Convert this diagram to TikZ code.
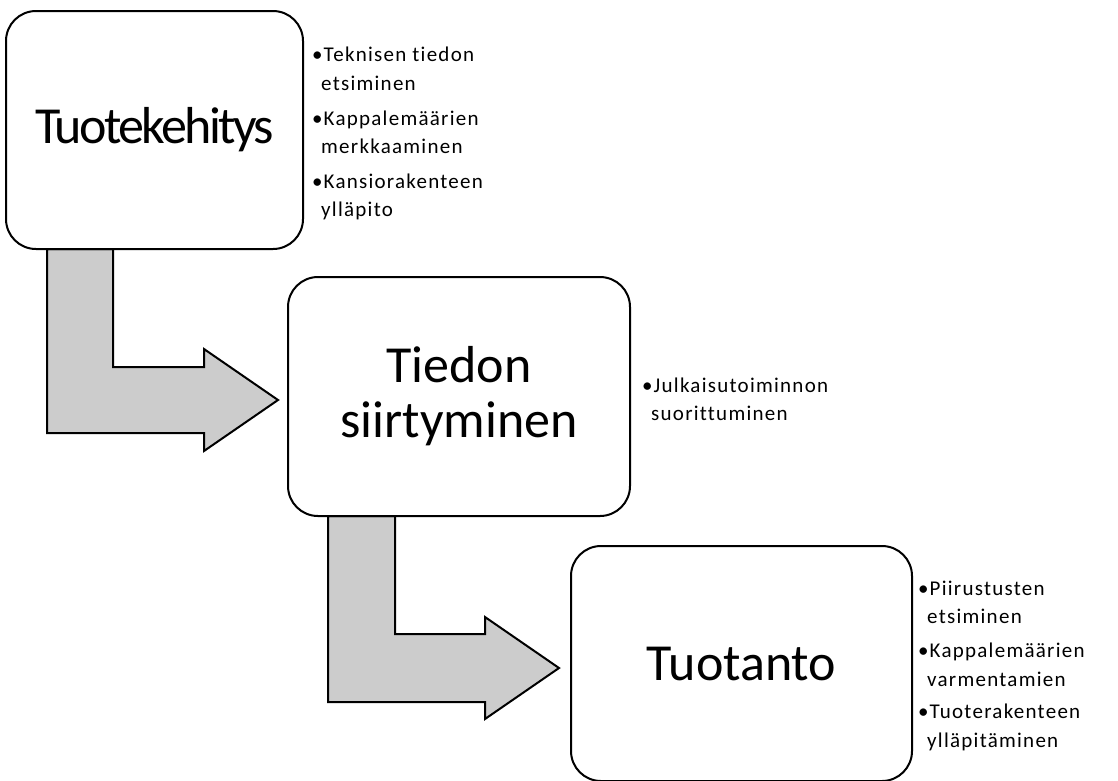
\documentclass[tikz,border=0pt]{standalone}
\usepackage{fontspec}
\setmainfont{Carlito}[Ligatures=NoCommon]
\newfontfamily\listfont{Carlito}[LetterSpace=6,Ligatures=NoCommon]
\usetikzlibrary{calc,positioning}
\definecolor{nuoliharmaa}{RGB}{204,204,204}
\newcommand{\kohta}[2]{\makebox[11.5pt][l]{\textbullet}#1\\\hspace*{9pt}#2}
\tikzset{
  vaihe/.style={draw=black, line width=2pt, fill=white, rounded corners=30pt, align=center,
    font=\fontsize{52}{55}\selectfont, inner sep=0pt},
  nuoli/.style={draw=black, line width=2pt, fill=nuoliharmaa, line join=miter},
  lista/.style={anchor=base west, align=left, inner sep=0pt, font=\listfont\fontsize{21}{28.5}\selectfont}
}
\begin{document}
\begin{tikzpicture}[x=1pt,y=-1pt]
\useasboundingbox (0,0) rectangle (1118,780);
% taitetut nuolet
\coordinate (s1) at (47,249); \coordinate (t1) at (278,400);
\coordinate (s2) at (328,516); \coordinate (t2) at (559,668);
\draw[nuoli] (s1) -- ++(66,0) |- ([xshift=-74pt,yshift=33pt]t1) -- ++(0,-18) -- (t1) -- ([xshift=-74pt,yshift=-51pt]t1) -- ++(0,-18) -| (s1) -- cycle;
\draw[nuoli] (s2) -- ++(67,0) |- ([xshift=-74pt,yshift=34pt]t2) -- ++(0,-17) -- (t2) -- ([xshift=-74pt,yshift=-51pt]t2) -- ++(0,-17) -| (s2) -- cycle;
% vaiheet
\node[vaihe, minimum width=297pt, minimum height=238pt] (kehitys) at (154.5,130) {\addfontfeature{LetterSpace=-5}Tuotekehitys};
\node[vaihe, minimum width=342pt, minimum height=239pt] (siirto) at (459,396.5) {Tiedon\\siirtyminen};
\node[vaihe, minimum width=341pt, minimum height=235pt] (tuotanto) at (741.5,663.5) {Tuotanto};
% tehtavat (ankkuri = toisen rivin pohjaviiva)
\node[lista] (k1) at (312,90) {\kohta{Teknisen tiedon}{etsiminen}};
\node[lista] (k2) at (312,153.5) {\kohta{Kappalemäärien}{merkkaaminen}};
\node[lista] (k3) at (312,216.5) {\kohta{Kansiorakenteen}{ylläpito}};
\node[lista] (s1t) at (642,420.5) {\kohta{Julkaisutoiminnon}{suorittuminen}};
\node[lista] (t1t) at (918,623.5) {\kohta{Piirustusten}{etsiminen}};
\node[lista] (t2t) at (918,686) {\kohta{Kappalemäärien}{varmentamien}};
\node[lista] (t3t) at (918,747) {\kohta{Tuoterakenteen}{ylläpitäminen}};
\end{tikzpicture}
\end{document}
